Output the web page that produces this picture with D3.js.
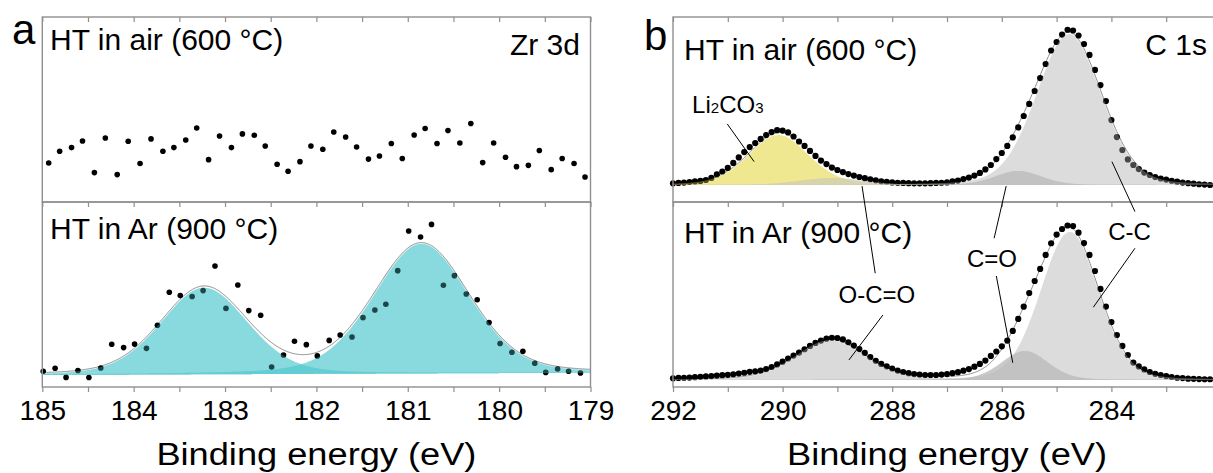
<!DOCTYPE html>
<html><head><meta charset="utf-8">
<script src="https://cdn.jsdelivr.net/npm/d3@7"></script>
<style>
html,body{margin:0;padding:0;background:#fff;}
svg{display:block;font-family:"Liberation Sans",Arial,Helvetica,sans-serif;}
</style></head><body>
<svg id="chart" width="1213" height="473"></svg>
<script>
// ---------- Zr 3d ----------
const zrAirEnergy = [184.93,184.81,184.68,184.56,184.43,184.31,184.18,184.06,183.93,183.81,183.68,183.56,183.43,183.31,183.18,183.06,182.93,182.81,182.68,182.56,182.43,182.31,182.18,182.06,181.93,181.81,181.68,181.56,181.43,181.31,181.18,181.06,180.93,180.81,180.68,180.56,180.43,180.31,180.18,180.06,179.93,179.81,179.68,179.56,179.43,179.31,179.18,179.06];
const zrAirIntensity = [21.1,27.4,29.4,33.0,15.9,34.6,14.8,32.8,20.8,34.1,27.4,29.4,33.5,40.0,22.9,35.7,29.4,36.8,36.1,30.3,20.4,16.6,21.8,30.3,28.5,37.8,35.1,29.7,23.2,24.9,31.6,23.5,36.2,39.7,31.6,38.6,31.9,42.4,21.3,31.9,24.2,19.1,19.8,27.8,17.5,23.5,20.8,13.5];
const zrArEnergy = [184.99,184.86,184.74,184.61,184.49,184.36,184.24,184.11,183.99,183.86,183.74,183.61,183.49,183.36,183.24,183.11,182.99,182.86,182.74,182.61,182.49,182.36,182.24,182.11,181.99,181.86,181.74,181.61,181.49,181.36,181.24,181.11,180.99,180.86,180.74,180.61,180.49,180.36,180.24,180.11,179.99,179.86,179.74,179.61,179.49,179.36,179.24,179.11];
const zrArIntensity = [8.5,10.1,5.2,8.9,5.1,10.3,23.1,21.3,23.2,20.9,33.4,51.2,49.4,48.9,52.1,65.4,42.5,55.1,41.3,38.8,10.8,17.3,24.7,22.9,16.8,25.2,28.1,27.0,37.5,41.6,44.7,62.9,84.3,81.1,87.9,55.0,60.2,50.3,47.2,34.8,23.5,18.8,19.3,12.8,7.9,9.7,8.5,7.6];
// fitted doublet (3d3/2, 3d5/2) and linear background
const zrPeakNames = ["Zr 3d3/2","Zr 3d5/2"];
const zrPeakCenters = [183.23,180.85];
const zrPeakHeights = [46.8,70.2];
const zrPeakFwhm = [1.12,1.24];
const zrPeakMix = [0.22,0.22];
const zrBackground = [[185,6.5],[179,7.7]];

// ---------- C 1s ----------
const cEnergy = [292.0,291.9,291.8,291.7,291.6,291.5,291.4,291.3,291.2,291.1,291.0,290.9,290.8,290.7,290.6,290.5,290.4,290.3,290.2,290.1,290.0,289.9,289.8,289.7,289.6,289.5,289.4,289.3,289.2,289.1,289.0,288.9,288.8,288.7,288.6,288.5,288.4,288.3,288.2,288.1,288.0,287.9,287.8,287.7,287.6,287.5,287.4,287.3,287.2,287.1,287.0,286.9,286.8,286.7,286.6,286.5,286.4,286.3,286.2,286.1,286.0,285.9,285.8,285.7,285.6,285.5,285.4,285.3,285.2,285.1,285.0,284.9,284.8,284.7,284.6,284.5,284.4,284.3,284.2,284.1,284.0,283.9,283.8,283.7,283.6,283.5,283.4,283.3,283.2,283.1,283.0,282.9,282.8,282.7,282.6,282.5,282.4,282.3,282.2];
const cAirIntensity = [10.1,10.3,10.5,10.8,11.1,11.4,11.9,13.0,14.9,16.5,18.4,21.1,24.1,27.0,29.7,31.9,34.1,36.2,37.8,38.8,38.6,37.6,35.4,32.7,30.3,27.6,24.9,22.4,20.5,18.6,17.3,16.2,15.1,14.3,13.5,12.9,12.3,11.7,11.2,10.9,10.6,10.4,10.3,10.2,10.1,10.1,10.1,10.2,10.3,10.4,10.6,11.1,11.6,12.4,13.2,14.3,15.7,17.6,20.0,23.2,26.5,30.3,34.9,40.3,46.5,53.0,60.0,67.0,74.6,81.9,86.5,90.5,93.1,92.7,90.0,85.4,79.5,71.4,63.2,54.6,44.3,35.1,28.1,23.0,20.0,17.8,15.9,14.6,13.5,12.7,12.1,11.5,11.0,10.5,10.2,9.9,9.6,9.4,9.2];
const cArIntensity = [4.7,4.9,5.0,5.1,5.3,5.5,5.7,5.9,6.2,6.4,6.6,6.9,7.3,7.7,8.2,8.5,8.9,9.7,10.8,12.2,13.7,15.4,17.0,18.6,20.4,22.2,23.8,25.1,26.1,26.6,26.5,25.7,24.2,22.4,20.5,18.4,16.2,14.2,12.5,11.2,10.0,8.9,8.1,7.5,7.0,6.7,6.5,6.5,6.5,6.7,7.0,7.5,8.0,8.8,9.7,11.0,12.5,14.3,16.8,19.2,22.0,25.1,30.3,36.8,43.4,50.8,57.3,63.8,71.4,77.7,82.4,85.4,87.3,87.0,83.4,77.8,71.4,62.7,53.0,43.5,35.1,28.1,22.2,17.3,13.2,11.1,9.5,8.1,7.1,6.5,5.9,5.4,5.0,4.8,4.5,4.4,4.3,4.2,4.2];
// components, in drawing order
const cComponentNames = ["Li2CO3","C-C","O-C=O","C=O"];
const cAirCenters = [290.08,284.77,289.1,285.7];
const cAirHeights = [27.0,81.6,3.8,7.6];
const cAirFwhm = [1.3,1.4,1.4,1.0];
const cAirMix = [0.25,0.15,0.2,0.2];
const cAirBackground = [[292,9.2],[282,9.2]];
const cArCenters = [290.08,284.76,289.13,285.58];
const cArHeights = [0,80.0,21.6,15.7];
const cArFwhm = [1.3,1.25,1.5,1.0];
const cArMix = [0.25,0.15,0.25,0.2];
const cArBackground = [[292,3.8],[282,3.8]];

// ---------- axes ----------
const aTickLabels = [185,184,183,182,181,180,179];
const aMinorTicks = [184.5,183.5,182.5,181.5,180.5,179.5];
const bTickLabels = [292,290,288,286,284];
const bMinorTicks = [291,289,287,285,283,282];

const svg = d3.select("#chart");
const TOP = 17, MID = 202, BOT = 387;
const xa = d3.scaleLinear().domain([185,179]).range([42.3,590.5]);
const xb = d3.scaleLinear().domain([292,282]).range([673,1221]);
const yUpper = d3.scaleLinear().domain([0,100]).range([MID,TOP]);
const yLower = d3.scaleLinear().domain([0,100]).range([BOT,MID]);

const FRAME = "#8f8f8f";
const TEAL = "rgb(80,200,205)";
const cColors = ["rgb(231,222,93)","rgb(203,203,203)","rgb(200,200,200)","rgb(178,178,178)"];

// pseudo-Voigt line shape
function pv(e, c, h, fwhm, eta) {
  const s = fwhm / 2.3548, d = e - c;
  const G = Math.exp(-d * d / (2 * s * s));
  const L = 1 / (1 + (d / (fwhm / 2)) ** 2);
  return h * ((1 - eta) * G + eta * L);
}
function lin(bg) {
  return e => bg[0][1] + (bg[1][1] - bg[0][1]) * (e - bg[0][0]) / (bg[1][0] - bg[0][0]);
}

function drawSpectrum(x, y, energy, intensity, fit, r) {
  const g = svg.append("g");
  const [lo, hi] = x.domain();
  const grid = d3.range(0, 801).map(i => lo + (hi - lo) * i / 800);
  const dots = () => g.append("g").selectAll("circle").data(energy).join("circle")
    .attr("cx", d => x(d)).attr("cy", (d, i) => y(intensity[i])).attr("r", r).attr("fill", "#000");
  if (!fit) { dots(); return; }
  const bg = lin(fit.bg);
  const comps = fit.centers.map((c, i) => ({
    color: fit.colors[i], h: fit.heights[i],
    f: e => pv(e, c, fit.heights[i], fit.fwhm[i], fit.mix[i])
  })).filter(c => c.h > 0);
  const area = c => d3.area().x(e => x(e)).y0(e => y(bg(e))).y1(e => y(bg(e) + c.f(e)))(grid);
  comps.forEach(c => g.append("path").attr("d", area(c)).attr("fill", c.color).attr("fill-opacity", 0.5));
  const env = d3.line().x(e => x(e)).y(e => y(bg(e) + d3.sum(comps, c => c.f(e))))(grid);
  g.append("path").attr("d", env).attr("fill", "none").attr("stroke", "#fff").attr("stroke-width", 2.5);
  g.append("path").attr("d", env).attr("fill", "none").attr("stroke", "#8a8a8a").attr("stroke-width", 1);
  dots();
  // translucent second layer tints the points that sit inside a component
  comps.forEach(c => g.append("path").attr("d", area(c)).attr("fill", c.color).attr("fill-opacity", 0.35));
}

// ---------- panel a : Zr 3d ----------
drawSpectrum(xa, yUpper, zrAirEnergy, zrAirIntensity, null, 2.8);
drawSpectrum(xa, yLower, zrArEnergy, zrArIntensity, {
  centers: zrPeakCenters, heights: zrPeakHeights, fwhm: zrPeakFwhm, mix: zrPeakMix,
  bg: zrBackground, colors: zrPeakNames.map(() => TEAL)
}, 2.8);

// ---------- panel b : C 1s ----------
drawSpectrum(xb, yUpper, cEnergy, cAirIntensity, {
  centers: cAirCenters, heights: cAirHeights, fwhm: cAirFwhm, mix: cAirMix,
  bg: cAirBackground, colors: cColors
}, 3.1);
drawSpectrum(xb, yLower, cEnergy, cArIntensity, {
  centers: cArCenters, heights: cArHeights, fwhm: cArFwhm, mix: cArMix,
  bg: cArBackground, colors: cColors
}, 3.1);

// ---------- frames and axes ----------
function frameAndAxes(x, labels, minors) {
  const [x0, x1] = x.range();
  const all = labels.concat(minors).sort((a, b) => b - a);
  [[TOP, MID], [MID, BOT]].forEach(([t, b]) => {
    svg.append("rect").attr("x", x0).attr("y", t).attr("width", x1 - x0).attr("height", b - t)
      .attr("fill", "none").attr("stroke", FRAME).attr("stroke-width", 1.4);
    const ax = svg.append("g").attr("transform", `translate(0,${t})`)
      .call(d3.axisTop(x).tickValues(all).tickSize(-5).tickFormat(""));
    ax.select(".domain").remove();
    ax.selectAll("line").attr("stroke", FRAME).attr("stroke-width", 1.2);
  });
  const bx = svg.append("g").attr("transform", `translate(0,${BOT})`)
    .call(d3.axisBottom(x).tickValues(all).tickSize(5)
      .tickFormat(d => labels.includes(d) ? d3.format("d")(d) : ""));
  bx.select(".domain").remove();
  bx.selectAll("line").attr("stroke", FRAME).attr("stroke-width", 1.2);
  bx.selectAll("text").attr("y", 33).attr("dy", 0)
    .attr("font-size", 28).attr("fill", "#000")
    .attr("font-family", "'Liberation Sans', Arial, sans-serif");
  svg.append("text").attr("x", (x0 + x1) / 2).attr("y", 465)
    .attr("text-anchor", "middle").attr("font-size", 31)
    .attr("textLength", 320).attr("lengthAdjust", "spacingAndGlyphs")
    .text("Binding energy (eV)");
}
frameAndAxes(xa, aTickLabels, aMinorTicks);
frameAndAxes(xb, bTickLabels, bMinorTicks);

// ---------- texts ----------
function txt(x, y, s, size, anchor) {
  return svg.append("text").attr("x", x).attr("y", y).attr("font-size", size)
    .attr("text-anchor", anchor || "start").attr("fill", "#000").text(s);
}
txt(12, 43.5, "a", 42);
txt(644, 50, "b", 42);
txt(50, 50, "HT in air (600 °C)", 30);
txt(50, 238.5, "HT in Ar (900 °C)", 30);
txt(580, 54.5, "Zr 3d", 30, "end");
txt(684, 60, "HT in air (600 °C)", 30);
txt(684, 243, "HT in Ar (900 °C)", 30);
txt(1207, 55, "C 1s", 30, "end");

// component labels, placed in energy / intensity units
const yOf = p => p === "air" ? yUpper : yLower;
const li = svg.append("text").attr("x", xb(291.0)).attr("y", yUpper(47.9))
  .attr("text-anchor", "middle").attr("font-size", 24);
li.append("tspan").text("Li");
li.append("tspan").attr("font-size", 15).text("2");
li.append("tspan").text("CO");
li.append("tspan").attr("font-size", 15).text("3");
txt(xb(288.28), yLower(45.2), "O-C=O", 24, "middle");
txt(xb(286.18), yLower(65.0), "C=O", 24, "middle");
txt(xb(283.67), yLower(79.5), "C-C", 24, "middle");

const leaders = [
  [291.01, "air", 42.2, 290.52, "air", 21.8],
  [288.55, "air", 8.6, 288.31, "ar", 61.5],
  [288.17, "ar", 38.9, 288.79, "ar", 14.6],
  [285.92, "air", 8.6, 286.14, "ar", 80.4],
  [286.10, "ar", 60.0, 285.80, "ar", 13.1],
  [283.99, "air", 21.8, 283.57, "ar", 94.8],
  [283.57, "ar", 75.0, 284.33, "ar", 43.1]
];
leaders.forEach(([e1, p1, v1, e2, p2, v2]) => {
  svg.append("line")
    .attr("x1", xb(e1)).attr("y1", yOf(p1)(v1))
    .attr("x2", xb(e2)).attr("y2", yOf(p2)(v2))
    .attr("stroke", "#000").attr("stroke-width", 1);
});
</script>
</body></html>
